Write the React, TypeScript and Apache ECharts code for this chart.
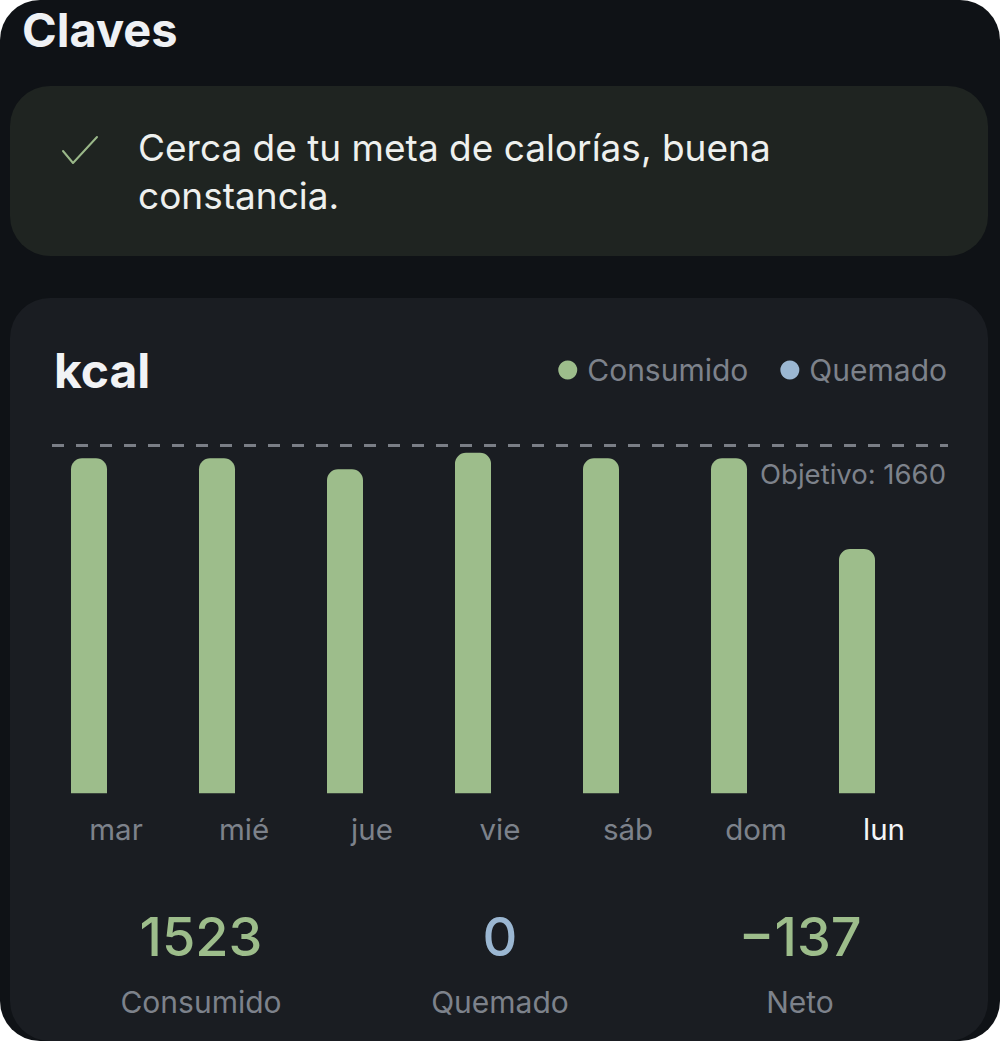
import React, { useEffect, useRef } from 'react';
import * as echarts from 'echarts';

const days = ['mar', 'mié', 'jue', 'vie', 'sáb', 'dom', 'lun'];
const consumido = [1600, 1600, 1547, 1626, 1600, 1600, 1167];
const quemado = [0, 0, 0, 0, 0, 0, 0];
const objetivo = 1660;
const todayIndex = 6;
const statValues = ['1523', '0', '−137'];
const statLabels = ['Consumido', 'Quemado', 'Neto'];

const GREEN = '#9dbd8b';
const BLUE = '#9bb7d2';
const GRAY = '#7d828b';
const FONT = 'Inter, "Noto Sans", sans-serif';

function Chart() {
  const ref = useRef<HTMLDivElement>(null);
  useEffect(() => {
    const chart = echarts.init(ref.current!, undefined, { renderer: 'svg' });
    chart.setOption({
      animation: false,
      backgroundColor: 'transparent',
      textStyle: { fontFamily: FONT },
      title: {
        text: 'kcal',
        left: 39,
        top: 43,
        textStyle: { color: '#f2f3f5', fontSize: 48, fontWeight: 'bold', fontFamily: FONT },
      },
      legend: {
        right: 36,
        top: 52,
        icon: 'circle',
        itemWidth: 19,
        itemHeight: 19,
        itemGap: 32,
        textStyle: { color: GRAY, fontSize: 30, fontFamily: FONT, padding: [0, 0, 0, 5] },
        data: ['Consumido', 'Quemado'],
      },
      grid: { left: 42, right: 40, top: 76.5, bottom: 247.7 },
      xAxis: {
        type: 'category',
        data: days,
        axisLine: { show: false },
        axisTick: { show: false },
        axisLabel: {
          margin: 21,
          formatter: (v: string, i: number) => (i === todayIndex ? `{hl|${v}}` : `{n|${v}}`),
          rich: {
            n: { color: GRAY, fontSize: 29.5, fontFamily: FONT },
            hl: { color: '#f4f5f7', fontSize: 29.5, fontFamily: FONT },
          },
        },
      },
      yAxis: {
        type: 'value',
        min: 0,
        max: 2000,
        show: false,
        splitLine: { show: false },
      },
      series: [
        {
          name: 'Consumido',
          type: 'bar',
          data: consumido,
          barWidth: 36,
          barGap: '50%',
          itemStyle: { color: GREEN, borderRadius: [11, 11, 0, 0] },
          markLine: {
            silent: true,
            symbol: 'none',
            label: { show: false },
            lineStyle: { color: '#7a7e86', width: 3, type: [12, 12] },
            data: [{ yAxis: objetivo }],
          },
        },
        {
          name: 'Quemado',
          type: 'bar',
          data: quemado,
          barWidth: 36,
          barGap: '50%',
          itemStyle: { color: BLUE, borderRadius: [11, 11, 0, 0] },
        },
      ],
    });
    const y = chart.convertToPixel({ yAxisIndex: 0 }, objetivo) as number;
    const centers = [191, 490, 790];
    const graphic: any[] = [
      {
        type: 'text',
        x: 936,
        y: y + 28.5,
        style: {
          text: `Objetivo: ${objetivo}`,
          fill: GRAY,
          fontSize: 27.5,
          fontFamily: FONT,
          align: 'right',
          verticalAlign: 'middle',
        },
      },
    ];
    statValues.forEach((v, i) => {
      graphic.push({
        type: 'text',
        x: centers[i],
        y: 638,
        style: {
          text: v,
          fill: i === 1 ? BLUE : GREEN,
          fontSize: 54,
          fontWeight: 500,
          fontFamily: FONT,
          align: 'center',
          verticalAlign: 'middle',
        },
      });
      graphic.push({
        type: 'text',
        x: centers[i],
        y: 704,
        style: {
          text: statLabels[i],
          fill: GRAY,
          fontSize: 30,
          fontFamily: FONT,
          align: 'center',
          verticalAlign: 'middle',
        },
      });
    });
    chart.setOption({ graphic });
    return () => chart.dispose();
  }, []);
  return (
    <div
      ref={ref}
      style={{
        position: 'absolute',
        left: 10,
        top: 298,
        width: 978,
        height: 743,
        background: '#1a1d22',
        borderRadius: 40,
      }}
    />
  );
}

export default function App() {
  return (
    <div style={{ position: 'fixed', inset: 0, background: '#ffffff' }}>
      <div
        style={{
          position: 'absolute',
          left: 0,
          top: 0,
          width: 1000,
          height: 1041,
          background: '#0f1216',
          borderRadius: 40,
          fontFamily: FONT,
        }}
      >
        <div
          style={{
            position: 'absolute',
            left: 22,
            top: 1,
            fontSize: 47,
            fontWeight: 700,
            color: '#eff1f4',
            lineHeight: '58px',
          }}
        >
          Claves
        </div>
        <div
          style={{
            position: 'absolute',
            left: 10,
            top: 86,
            width: 978,
            height: 170,
            background: '#1f2421',
            borderRadius: 40,
          }}
        >
          <svg
            width="40"
            height="40"
            style={{ position: 'absolute', left: 51, top: 45 }}
            viewBox="0 0 40 40"
          >
            <polyline
              points="2,20 12,32 36,6"
              fill="none"
              stroke="#9ab889"
              strokeWidth="2"
              strokeLinecap="round"
              strokeLinejoin="round"
            />
          </svg>
          <div
            style={{
              position: 'absolute',
              left: 128,
              top: 38,
              width: 800,
              fontSize: 37,
              lineHeight: '48px',
              color: '#eef0ee',
            }}
          >
            Cerca de tu meta de calorías, buena constancia.
          </div>
        </div>
        <Chart />
      </div>
    </div>
  );
}
